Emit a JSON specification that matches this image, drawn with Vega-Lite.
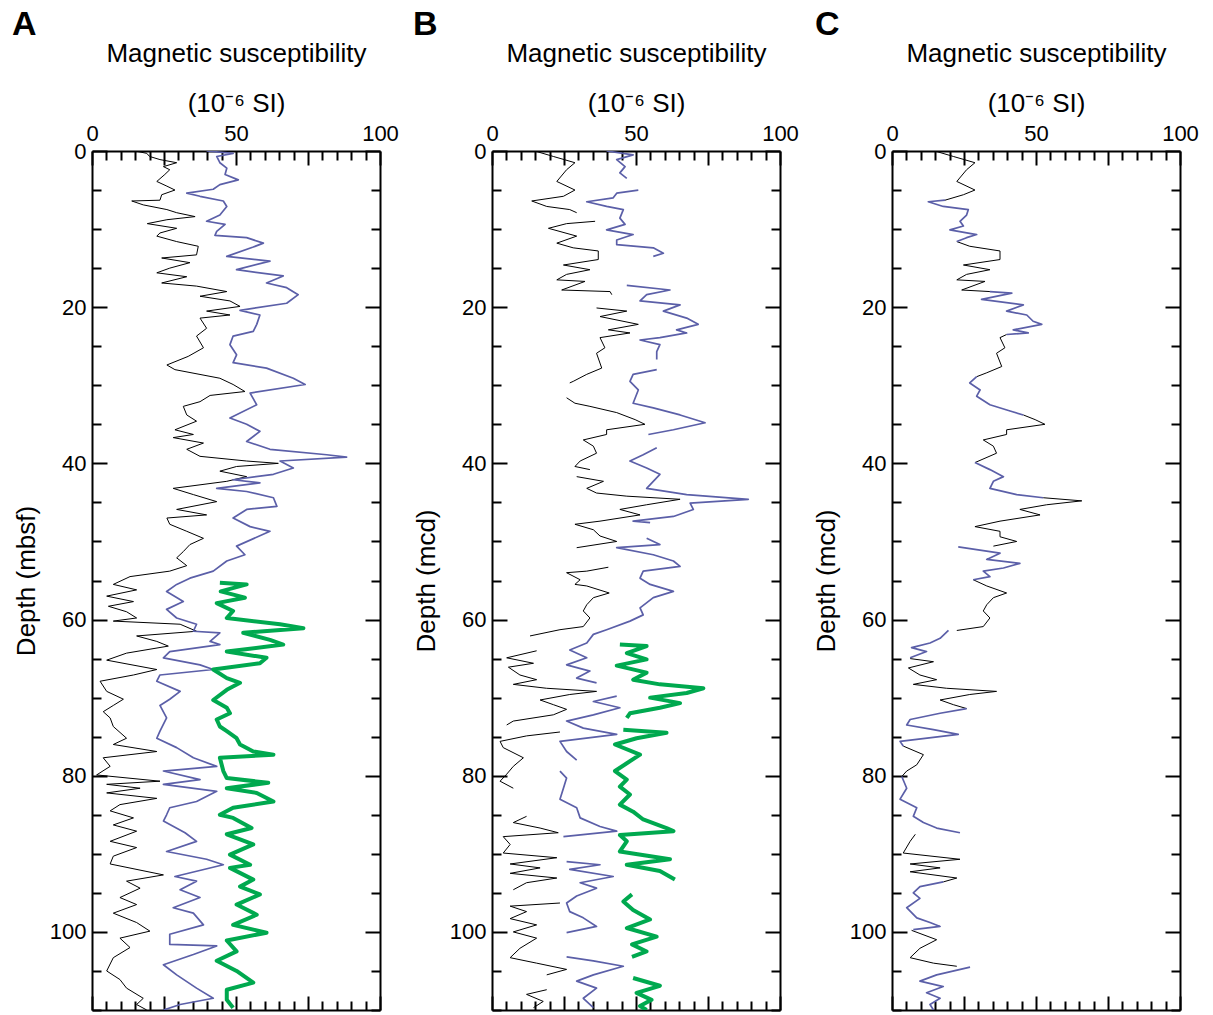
{
"$schema": "https://vega.github.io/schema/vega-lite/v6.json",
"background": "white",
"padding": {"left": 12, "top": 8, "right": 3, "bottom": 2},
"config": {
  "view": {"stroke": null},
  "axis": {"grid": false, "domainColor": "black", "domainWidth": 2, "tickColor": "black", "tickWidth": 2, "labelColor": "black", "titleColor": "black", "labelFont": "Liberation Sans", "titleFont": "Liberation Sans", "labelFontSize": 22, "titleFontSize": 26, "titleFontWeight": "normal", "labelOverlap": false, "labelFlush": false},
  "title": {"font": "Liberation Sans", "color": "black"}
},
"datasets": {
"ms": [
{"p":"A","h":"k","s":"Ak","d":0,"v":15},{"p":"A","h":"k","s":"Ak","d":0.3,"v":19},{"p":"A","h":"k","s":"Ak","d":0.7,"v":20},{"p":"A","h":"k","s":"Ak","d":1.1,"v":23.6},{"p":"A","h":"k","s":"Ak","d":1.5,"v":29.4},{"p":"A","h":"k","s":"Ak","d":2.0,"v":24.8},{"p":"A","h":"k","s":"Ak","d":2.4,"v":27},{"p":"A","h":"k","s":"Ak","d":3.0,"v":25.3},{"p":"A","h":"k","s":"Ak","d":3.9,"v":22.5},{"p":"A","h":"k","s":"Ak","d":4.5,"v":26},{"p":"A","h":"k","s":"Ak","d":5.0,"v":28.8},{"p":"A","h":"k","s":"Ak","d":5.6,"v":24.2},{"p":"A","h":"k","s":"Ak","d":6.3,"v":23.6},{"p":"A","h":"k","s":"Ak","d":6.4,"v":13.8},{"p":"A","h":"k","s":"Ak","d":6.9,"v":17.8},{"p":"A","h":"k","s":"Ak","d":7.5,"v":26},{"p":"A","h":"k","s":"Ak","d":7.9,"v":29.4},{"p":"A","h":"k","s":"Ak","d":8.4,"v":35.8},{"p":"A","h":"k","s":"Ak","d":8.8,"v":26},{"p":"A","h":"k","s":"Ak","d":9.3,"v":19.2},{"p":"A","h":"k","s":"Ak","d":9.9,"v":29.4},{"p":"A","h":"k","s":"Ak","d":10.5,"v":23.6},{"p":"A","h":"k","s":"Ak","d":10.9,"v":22.5},{"p":"A","h":"k","s":"Ak","d":11.6,"v":29.4},{"p":"A","h":"k","s":"Ak","d":12.2,"v":36.9},{"p":"A","h":"k","s":"Ak","d":13.3,"v":36.3},{"p":"A","h":"k","s":"Ak","d":13.7,"v":24.2},{"p":"A","h":"k","s":"Ak","d":14.3,"v":34},{"p":"A","h":"k","s":"Ak","d":15.0,"v":27},{"p":"A","h":"k","s":"Ak","d":15.6,"v":22.5},{"p":"A","h":"k","s":"Ak","d":16.1,"v":32.9},{"p":"A","h":"k","s":"Ak","d":16.9,"v":24.2},{"p":"A","h":"k","s":"Ak","d":17.3,"v":36.3},{"p":"A","h":"k","s":"Ak","d":18.0,"v":46.8},{"p":"A","h":"k","s":"Ak","d":18.6,"v":37.5},{"p":"A","h":"k","s":"Ak","d":19.2,"v":47.9},{"p":"A","h":"k","s":"Ak","d":19.9,"v":51.4},{"p":"A","h":"k","s":"Ak","d":20.5,"v":39.8},{"p":"A","h":"k","s":"Ak","d":21.0,"v":47.9},{"p":"A","h":"k","s":"Ak","d":21.4,"v":37.5},{"p":"A","h":"k","s":"Ak","d":22.7,"v":39.8},{"p":"A","h":"k","s":"Ak","d":23.7,"v":36.3},{"p":"A","h":"k","s":"Ak","d":25.2,"v":38.7},{"p":"A","h":"k","s":"Ak","d":26.3,"v":33.4},{"p":"A","h":"k","s":"Ak","d":27.4,"v":26},{"p":"A","h":"k","s":"Ak","d":28.0,"v":28.8},{"p":"A","h":"k","s":"Ak","d":29.1,"v":44.4},{"p":"A","h":"k","s":"Ak","d":29.9,"v":49},{"p":"A","h":"k","s":"Ak","d":30.8,"v":53.1},{"p":"A","h":"k","s":"Ak","d":31.3,"v":41},{"p":"A","h":"k","s":"Ak","d":32.1,"v":37.5},{"p":"A","h":"k","s":"Ak","d":32.7,"v":31.7},{"p":"A","h":"k","s":"Ak","d":33.8,"v":32.9},{"p":"A","h":"k","s":"Ak","d":34.6,"v":36.3},{"p":"A","h":"k","s":"Ak","d":35.7,"v":28.8},{"p":"A","h":"k","s":"Ak","d":36.3,"v":35.2},{"p":"A","h":"k","s":"Ak","d":36.7,"v":28.2},{"p":"A","h":"k","s":"Ak","d":37.4,"v":38.7},{"p":"A","h":"k","s":"Ak","d":38.2,"v":32.9},{"p":"A","h":"k","s":"Ak","d":39.1,"v":37.5},{"p":"A","h":"k","s":"Ak","d":39.7,"v":53.7},{"p":"A","h":"k","s":"Ak","d":40.0,"v":64.7},{"p":"A","h":"k","s":"Ak","d":40.4,"v":50.2},{"p":"A","h":"k","s":"Ak","d":41.0,"v":44.4},{"p":"A","h":"k","s":"Ak","d":41.7,"v":53.7},{"p":"A","h":"k","s":"Ak","d":42.3,"v":46.8},{"p":"A","h":"k","s":"Ak","d":43.2,"v":28.2},{"p":"A","h":"k","s":"Ak","d":44.0,"v":35.2},{"p":"A","h":"k","s":"Ak","d":44.9,"v":43.3},{"p":"A","h":"k","s":"Ak","d":45.9,"v":29.4},{"p":"A","h":"k","s":"Ak","d":46.6,"v":39.8},{"p":"A","h":"k","s":"Ak","d":47.0,"v":26},{"p":"A","h":"k","s":"Ak","d":47.8,"v":27},{"p":"A","h":"k","s":"Ak","d":48.7,"v":32.9},{"p":"A","h":"k","s":"Ak","d":49.6,"v":38.7},{"p":"A","h":"k","s":"Ak","d":50.4,"v":34},{"p":"A","h":"k","s":"Ak","d":51.3,"v":31.7},{"p":"A","h":"k","s":"Ak","d":52.1,"v":29.4},{"p":"A","h":"k","s":"Ak","d":53.1,"v":32.9},{"p":"A","h":"k","s":"Ak","d":53.8,"v":27},{"p":"A","h":"k","s":"Ak","d":54.5,"v":13.2},{"p":"A","h":"k","s":"Ak","d":55.5,"v":7.4},{"p":"A","h":"k","s":"Ak","d":56.2,"v":15.5},{"p":"A","h":"k","s":"Ak","d":57.0,"v":5.1},{"p":"A","h":"k","s":"Ak","d":57.7,"v":14.4},{"p":"A","h":"k","s":"Ak","d":58.3,"v":5.7},{"p":"A","h":"k","s":"Ak","d":59.0,"v":12},{"p":"A","h":"k","s":"Ak","d":59.8,"v":15.5},{"p":"A","h":"k","s":"Ak","d":60.2,"v":7.4},{"p":"A","h":"k","s":"Ak","d":60.6,"v":30.6},{"p":"A","h":"k","s":"Ak","d":61.5,"v":36.3},{"p":"A","h":"k","s":"Ak","d":62.1,"v":15.5},{"p":"A","h":"k","s":"Ak","d":62.8,"v":22.5},{"p":"A","h":"k","s":"Ak","d":63.4,"v":26.5},{"p":"A","h":"k","s":"Ak","d":64.3,"v":12},{"p":"A","h":"k","s":"Ak","d":65.2,"v":5.1},{"p":"A","h":"k","s":"Ak","d":66.4,"v":22.5},{"p":"A","h":"k","s":"Ak","d":67.1,"v":14.4},{"p":"A","h":"k","s":"Ak","d":67.9,"v":2.8},{"p":"A","h":"k","s":"Ak","d":69.2,"v":5.1},{"p":"A","h":"k","s":"Ak","d":70.2,"v":10.9},{"p":"A","h":"k","s":"Ak","d":71.0,"v":7.4},{"p":"A","h":"k","s":"Ak","d":71.8,"v":3.9},{"p":"A","h":"k","s":"Ak","d":72.6,"v":6.3},{"p":"A","h":"k","s":"Ak","d":73.7,"v":7.4},{"p":"A","h":"k","s":"Ak","d":75.2,"v":12},{"p":"A","h":"k","s":"Ak","d":76.0,"v":7.4},{"p":"A","h":"k","s":"Ak","d":76.9,"v":22.5},{"p":"A","h":"k","s":"Ak","d":77.7,"v":3.9},{"p":"A","h":"k","s":"Ak","d":78.8,"v":6.3},{"p":"A","h":"k","s":"Ak","d":79.9,"v":1.6},{"p":"A","h":"k","s":"Ak","d":80.7,"v":23.6},{"p":"A","h":"k","s":"Ak","d":81.1,"v":5.1},{"p":"A","h":"k","s":"Ak","d":81.6,"v":16.7},{"p":"A","h":"k","s":"Ak","d":82.2,"v":5.1},{"p":"A","h":"k","s":"Ak","d":82.9,"v":22.5},{"p":"A","h":"k","s":"Ak","d":83.7,"v":9.7},{"p":"A","h":"k","s":"Ak","d":84.5,"v":6.3},{"p":"A","h":"k","s":"Ak","d":85.4,"v":14.4},{"p":"A","h":"k","s":"Ak","d":86.3,"v":7.4},{"p":"A","h":"k","s":"Ak","d":87.1,"v":15.5},{"p":"A","h":"k","s":"Ak","d":88.4,"v":6.3},{"p":"A","h":"k","s":"Ak","d":89.2,"v":15.5},{"p":"A","h":"k","s":"Ak","d":90.3,"v":7.4},{"p":"A","h":"k","s":"Ak","d":91.3,"v":6.3},{"p":"A","h":"k","s":"Ak","d":92.7,"v":24.8},{"p":"A","h":"k","s":"Ak","d":93.5,"v":12},{"p":"A","h":"k","s":"Ak","d":94.4,"v":16.7},{"p":"A","h":"k","s":"Ak","d":95.6,"v":9.7},{"p":"A","h":"k","s":"Ak","d":96.5,"v":15.5},{"p":"A","h":"k","s":"Ak","d":97.6,"v":7.4},{"p":"A","h":"k","s":"Ak","d":98.8,"v":15.5},{"p":"A","h":"k","s":"Ak","d":99.9,"v":20.1},{"p":"A","h":"k","s":"Ak","d":100.8,"v":9.7},{"p":"A","h":"k","s":"Ak","d":102.0,"v":13.2},{"p":"A","h":"k","s":"Ak","d":103.3,"v":7.4},{"p":"A","h":"k","s":"Ak","d":105.0,"v":5.1},{"p":"A","h":"k","s":"Ak","d":106.1,"v":9.7},{"p":"A","h":"k","s":"Ak","d":107.2,"v":12},{"p":"A","h":"k","s":"Ak","d":108.5,"v":17.8},{"p":"A","h":"k","s":"Ak","d":109.3,"v":15.5},{"p":"A","h":"k","s":"Ak","d":110,"v":19},
{"p":"A","h":"b","s":"Ab","d":0,"v":39.8},{"p":"A","h":"b","s":"Ab","d":0.3,"v":49},{"p":"A","h":"b","s":"Ab","d":0.7,"v":43.3},{"p":"A","h":"b","s":"Ab","d":1.5,"v":44.4},{"p":"A","h":"b","s":"Ab","d":2.2,"v":46.8},{"p":"A","h":"b","s":"Ab","d":3.0,"v":46.2},{"p":"A","h":"b","s":"Ab","d":3.7,"v":50.8},{"p":"A","h":"b","s":"Ab","d":4.3,"v":44.4},{"p":"A","h":"b","s":"Ab","d":4.9,"v":42.1},{"p":"A","h":"b","s":"Ab","d":5.4,"v":32.9},{"p":"A","h":"b","s":"Ab","d":5.8,"v":37.5},{"p":"A","h":"b","s":"Ab","d":6.4,"v":45.6},{"p":"A","h":"b","s":"Ab","d":7.1,"v":46.8},{"p":"A","h":"b","s":"Ab","d":8.2,"v":44.4},{"p":"A","h":"b","s":"Ab","d":9.0,"v":39.8},{"p":"A","h":"b","s":"Ab","d":9.4,"v":46.2},{"p":"A","h":"b","s":"Ab","d":10.3,"v":43.3},{"p":"A","h":"b","s":"Ab","d":10.8,"v":42.7},{"p":"A","h":"b","s":"Ab","d":11.1,"v":53.7},{"p":"A","h":"b","s":"Ab","d":11.8,"v":59.5},{"p":"A","h":"b","s":"Ab","d":12.3,"v":56},{"p":"A","h":"b","s":"Ab","d":13.5,"v":46.8},{"p":"A","h":"b","s":"Ab","d":14.1,"v":61.8},{"p":"A","h":"b","s":"Ab","d":15.2,"v":50.2},{"p":"A","h":"b","s":"Ab","d":16.0,"v":66.4},{"p":"A","h":"b","s":"Ab","d":16.9,"v":60.6},{"p":"A","h":"b","s":"Ab","d":17.5,"v":67.6},{"p":"A","h":"b","s":"Ab","d":18.4,"v":71.6},{"p":"A","h":"b","s":"Ab","d":19.5,"v":67.6},{"p":"A","h":"b","s":"Ab","d":20.4,"v":51.4},{"p":"A","h":"b","s":"Ab","d":21.0,"v":58.3},{"p":"A","h":"b","s":"Ab","d":22.2,"v":57.2},{"p":"A","h":"b","s":"Ab","d":23.1,"v":56},{"p":"A","h":"b","s":"Ab","d":23.7,"v":49},{"p":"A","h":"b","s":"Ab","d":24.8,"v":47.9},{"p":"A","h":"b","s":"Ab","d":26.1,"v":50.2},{"p":"A","h":"b","s":"Ab","d":27.1,"v":49},{"p":"A","h":"b","s":"Ab","d":27.8,"v":60.6},{"p":"A","h":"b","s":"Ab","d":29.1,"v":69.9},{"p":"A","h":"b","s":"Ab","d":29.9,"v":74},{"p":"A","h":"b","s":"Ab","d":31.0,"v":54.9},{"p":"A","h":"b","s":"Ab","d":32.5,"v":57.2},{"p":"A","h":"b","s":"Ab","d":34.2,"v":47.9},{"p":"A","h":"b","s":"Ab","d":35.0,"v":53.7},{"p":"A","h":"b","s":"Ab","d":35.9,"v":58.3},{"p":"A","h":"b","s":"Ab","d":37.2,"v":53.7},{"p":"A","h":"b","s":"Ab","d":38.2,"v":61.8},{"p":"A","h":"b","s":"Ab","d":38.9,"v":81.5},{"p":"A","h":"b","s":"Ab","d":39.2,"v":88.4},{"p":"A","h":"b","s":"Ab","d":39.7,"v":65.3},{"p":"A","h":"b","s":"Ab","d":40.6,"v":69.9},{"p":"A","h":"b","s":"Ab","d":41.4,"v":63},{"p":"A","h":"b","s":"Ab","d":42.1,"v":49},{"p":"A","h":"b","s":"Ab","d":42.5,"v":58.3},{"p":"A","h":"b","s":"Ab","d":43.2,"v":43.3},{"p":"A","h":"b","s":"Ab","d":43.6,"v":53.7},{"p":"A","h":"b","s":"Ab","d":44.4,"v":63},{"p":"A","h":"b","s":"Ab","d":45.5,"v":64.2},{"p":"A","h":"b","s":"Ab","d":45.9,"v":53.7},{"p":"A","h":"b","s":"Ab","d":47.0,"v":49},{"p":"A","h":"b","s":"Ab","d":48.1,"v":54.9},{"p":"A","h":"b","s":"Ab","d":48.7,"v":61.8},{"p":"A","h":"b","s":"Ab","d":50.6,"v":50.2},{"p":"A","h":"b","s":"Ab","d":51.7,"v":53.1},{"p":"A","h":"b","s":"Ab","d":52.5,"v":46.8},{"p":"A","h":"b","s":"Ab","d":53.8,"v":42.1},{"p":"A","h":"b","s":"Ab","d":54.7,"v":34},{"p":"A","h":"b","s":"Ab","d":55.5,"v":29.4},{"p":"A","h":"b","s":"Ab","d":56.4,"v":25.9},{"p":"A","h":"b","s":"Ab","d":57.7,"v":31.7},{"p":"A","h":"b","s":"Ab","d":58.7,"v":25.9},{"p":"A","h":"b","s":"Ab","d":59.8,"v":29.4},{"p":"A","h":"b","s":"Ab","d":60.6,"v":36.3},{"p":"A","h":"b","s":"Ab","d":61.5,"v":35.2},{"p":"A","h":"b","s":"Ab","d":61.7,"v":44.4},{"p":"A","h":"b","s":"Ab","d":62.8,"v":41},{"p":"A","h":"b","s":"Ab","d":63.2,"v":44.4},{"p":"A","h":"b","s":"Ab","d":64.1,"v":27},{"p":"A","h":"b","s":"Ab","d":64.9,"v":24.8},{"p":"A","h":"b","s":"Ab","d":65.8,"v":37.5},{"p":"A","h":"b","s":"Ab","d":66.4,"v":42.1},{"p":"A","h":"b","s":"Ab","d":67.1,"v":23.6},{"p":"A","h":"b","s":"Ab","d":67.9,"v":22.5},{"p":"A","h":"b","s":"Ab","d":69.2,"v":30.6},{"p":"A","h":"b","s":"Ab","d":70.2,"v":27},{"p":"A","h":"b","s":"Ab","d":71.0,"v":23.6},{"p":"A","h":"b","s":"Ab","d":72.6,"v":25.9},{"p":"A","h":"b","s":"Ab","d":74.3,"v":23.6},{"p":"A","h":"b","s":"Ab","d":75.2,"v":22.5},{"p":"A","h":"b","s":"Ab","d":76.4,"v":29.4},{"p":"A","h":"b","s":"Ab","d":77.7,"v":35.2},{"p":"A","h":"b","s":"Ab","d":78.8,"v":43.3},{"p":"A","h":"b","s":"Ab","d":79.4,"v":24.8},{"p":"A","h":"b","s":"Ab","d":80.5,"v":37.5},{"p":"A","h":"b","s":"Ab","d":81.1,"v":24.8},{"p":"A","h":"b","s":"Ab","d":82.0,"v":43.3},{"p":"A","h":"b","s":"Ab","d":83.3,"v":36.3},{"p":"A","h":"b","s":"Ab","d":84.1,"v":27},{"p":"A","h":"b","s":"Ab","d":85.0,"v":25.9},{"p":"A","h":"b","s":"Ab","d":85.8,"v":24.8},{"p":"A","h":"b","s":"Ab","d":87.3,"v":32.3},{"p":"A","h":"b","s":"Ab","d":88.4,"v":36.3},{"p":"A","h":"b","s":"Ab","d":89.7,"v":25.9},{"p":"A","h":"b","s":"Ab","d":90.7,"v":39.8},{"p":"A","h":"b","s":"Ab","d":91.4,"v":45.6},{"p":"A","h":"b","s":"Ab","d":92.9,"v":28.8},{"p":"A","h":"b","s":"Ab","d":93.5,"v":36.3},{"p":"A","h":"b","s":"Ab","d":94.6,"v":30.6},{"p":"A","h":"b","s":"Ab","d":95.6,"v":37.5},{"p":"A","h":"b","s":"Ab","d":96.9,"v":28.2},{"p":"A","h":"b","s":"Ab","d":97.6,"v":35.2},{"p":"A","h":"b","s":"Ab","d":99.1,"v":38.7},{"p":"A","h":"b","s":"Ab","d":100.3,"v":27},{"p":"A","h":"b","s":"Ab","d":101.6,"v":27},{"p":"A","h":"b","s":"Ab","d":101.8,"v":43.3},{"p":"A","h":"b","s":"Ab","d":102.9,"v":35.2},{"p":"A","h":"b","s":"Ab","d":104.2,"v":24.8},{"p":"A","h":"b","s":"Ab","d":105.5,"v":29.4},{"p":"A","h":"b","s":"Ab","d":107.2,"v":36.3},{"p":"A","h":"b","s":"Ab","d":108.5,"v":42.1},{"p":"A","h":"b","s":"Ab","d":109.3,"v":30.6},{"p":"A","h":"b","s":"Ab","d":110,"v":24.8},
{"p":"A","h":"g","s":"Ag","d":55.3,"v":44.4},{"p":"A","h":"g","s":"Ag","d":55.5,"v":53.7},{"p":"A","h":"g","s":"Ag","d":56.4,"v":44.7},{"p":"A","h":"g","s":"Ag","d":57.2,"v":53.1},{"p":"A","h":"g","s":"Ag","d":57.9,"v":43.3},{"p":"A","h":"g","s":"Ag","d":58.9,"v":49},{"p":"A","h":"g","s":"Ag","d":59.8,"v":46.8},{"p":"A","h":"g","s":"Ag","d":60.6,"v":65.3},{"p":"A","h":"g","s":"Ag","d":61.1,"v":73.4},{"p":"A","h":"g","s":"Ag","d":61.7,"v":52.5},{"p":"A","h":"g","s":"Ag","d":62.6,"v":61.8},{"p":"A","h":"g","s":"Ag","d":63.2,"v":66.4},{"p":"A","h":"g","s":"Ag","d":64.1,"v":46.8},{"p":"A","h":"g","s":"Ag","d":64.9,"v":60.6},{"p":"A","h":"g","s":"Ag","d":65.6,"v":58.3},{"p":"A","h":"g","s":"Ag","d":66.4,"v":42.1},{"p":"A","h":"g","s":"Ag","d":67.5,"v":46.8},{"p":"A","h":"g","s":"Ag","d":68.1,"v":51.4},{"p":"A","h":"g","s":"Ag","d":69.0,"v":46.8},{"p":"A","h":"g","s":"Ag","d":70.3,"v":42.1},{"p":"A","h":"g","s":"Ag","d":71.3,"v":46.8},{"p":"A","h":"g","s":"Ag","d":72.0,"v":47.9},{"p":"A","h":"g","s":"Ag","d":72.8,"v":43.3},{"p":"A","h":"g","s":"Ag","d":73.7,"v":44.4},{"p":"A","h":"g","s":"Ag","d":74.3,"v":46.8},{"p":"A","h":"g","s":"Ag","d":75.2,"v":50.2},{"p":"A","h":"g","s":"Ag","d":76.0,"v":51.4},{"p":"A","h":"g","s":"Ag","d":76.9,"v":56},{"p":"A","h":"g","s":"Ag","d":77.3,"v":63},{"p":"A","h":"g","s":"Ag","d":77.7,"v":44.4},{"p":"A","h":"g","s":"Ag","d":79.4,"v":45.6},{"p":"A","h":"g","s":"Ag","d":80.3,"v":46.8},{"p":"A","h":"g","s":"Ag","d":80.9,"v":61.2},{"p":"A","h":"g","s":"Ag","d":81.6,"v":46.8},{"p":"A","h":"g","s":"Ag","d":82.2,"v":57.2},{"p":"A","h":"g","s":"Ag","d":83.3,"v":63},{"p":"A","h":"g","s":"Ag","d":84.1,"v":49},{"p":"A","h":"g","s":"Ag","d":85.0,"v":44.4},{"p":"A","h":"g","s":"Ag","d":85.4,"v":49},{"p":"A","h":"g","s":"Ag","d":86.7,"v":55.4},{"p":"A","h":"g","s":"Ag","d":87.5,"v":46.8},{"p":"A","h":"g","s":"Ag","d":88.8,"v":56},{"p":"A","h":"g","s":"Ag","d":90.1,"v":47.9},{"p":"A","h":"g","s":"Ag","d":91.4,"v":54.9},{"p":"A","h":"g","s":"Ag","d":91.8,"v":47.9},{"p":"A","h":"g","s":"Ag","d":93.3,"v":56},{"p":"A","h":"g","s":"Ag","d":94.2,"v":51.4},{"p":"A","h":"g","s":"Ag","d":95.2,"v":58.3},{"p":"A","h":"g","s":"Ag","d":96.5,"v":50.2},{"p":"A","h":"g","s":"Ag","d":97.8,"v":57.2},{"p":"A","h":"g","s":"Ag","d":99.1,"v":49},{"p":"A","h":"g","s":"Ag","d":100.1,"v":60.6},{"p":"A","h":"g","s":"Ag","d":101.1,"v":46.8},{"p":"A","h":"g","s":"Ag","d":102.5,"v":50.2},{"p":"A","h":"g","s":"Ag","d":103.7,"v":43.3},{"p":"A","h":"g","s":"Ag","d":105.0,"v":50.2},{"p":"A","h":"g","s":"Ag","d":106.5,"v":56},{"p":"A","h":"g","s":"Ag","d":107.4,"v":46.8},{"p":"A","h":"g","s":"Ag","d":108.7,"v":46.8},{"p":"A","h":"g","s":"Ag","d":109.7,"v":49},
{"p":"B","h":"k","s":"Bk1","d":0,"v":14.9},{"p":"B","h":"k","s":"Bk1","d":0.7,"v":21.3},{"p":"B","h":"k","s":"Bk1","d":1.5,"v":28.8},{"p":"B","h":"k","s":"Bk1","d":2.4,"v":25.9},{"p":"B","h":"k","s":"Bk1","d":3.9,"v":22.5},{"p":"B","h":"k","s":"Bk1","d":5.0,"v":28.8},{"p":"B","h":"k","s":"Bk1","d":5.8,"v":24.8},{"p":"B","h":"k","s":"Bk1","d":6.4,"v":13.8},{"p":"B","h":"k","s":"Bk1","d":7.1,"v":19},{"p":"B","h":"k","s":"Bk1","d":7.5,"v":27},{"p":"B","h":"k","s":"Bk1","d":7.9,"v":29.4},
{"p":"B","h":"k","s":"Bk2","d":9.0,"v":35.8},{"p":"B","h":"k","s":"Bk2","d":9.3,"v":25.9},{"p":"B","h":"k","s":"Bk2","d":9.9,"v":19.6},{"p":"B","h":"k","s":"Bk2","d":10.9,"v":29.4},{"p":"B","h":"k","s":"Bk2","d":11.8,"v":22.5},{"p":"B","h":"k","s":"Bk2","d":12.4,"v":28.2},{"p":"B","h":"k","s":"Bk2","d":12.8,"v":36.9},{"p":"B","h":"k","s":"Bk2","d":13.9,"v":36.9},{"p":"B","h":"k","s":"Bk2","d":14.6,"v":24.8},{"p":"B","h":"k","s":"Bk2","d":15.2,"v":34},{"p":"B","h":"k","s":"Bk2","d":15.8,"v":25.9},{"p":"B","h":"k","s":"Bk2","d":16.5,"v":22.5},{"p":"B","h":"k","s":"Bk2","d":16.7,"v":32.3},{"p":"B","h":"k","s":"Bk2","d":17.8,"v":24.2},{"p":"B","h":"k","s":"Bk2","d":18.0,"v":41},{"p":"B","h":"k","s":"Bk2","d":18.4,"v":41.6},
{"p":"B","h":"k","s":"Bk3","d":20.1,"v":36.3},{"p":"B","h":"k","s":"Bk3","d":20.5,"v":46.8},{"p":"B","h":"k","s":"Bk3","d":21.2,"v":37.5},{"p":"B","h":"k","s":"Bk3","d":22.2,"v":50.8},{"p":"B","h":"k","s":"Bk3","d":22.9,"v":40.4},{"p":"B","h":"k","s":"Bk3","d":23.3,"v":47.9},{"p":"B","h":"k","s":"Bk3","d":23.9,"v":37.5},{"p":"B","h":"k","s":"Bk3","d":25.2,"v":39.2},{"p":"B","h":"k","s":"Bk3","d":25.9,"v":36.3},{"p":"B","h":"k","s":"Bk3","d":27.8,"v":38.1},{"p":"B","h":"k","s":"Bk3","d":28.6,"v":32.9},{"p":"B","h":"k","s":"Bk3","d":29.5,"v":28.2},{"p":"B","h":"k","s":"Bk3","d":29.7,"v":27},
{"p":"B","h":"k","s":"Bk4","d":31.6,"v":25.9},{"p":"B","h":"k","s":"Bk4","d":32.3,"v":28.8},{"p":"B","h":"k","s":"Bk4","d":32.7,"v":34},{"p":"B","h":"k","s":"Bk4","d":33.5,"v":43.3},{"p":"B","h":"k","s":"Bk4","d":34.4,"v":49.7},{"p":"B","h":"k","s":"Bk4","d":35.0,"v":53.1},{"p":"B","h":"k","s":"Bk4","d":35.7,"v":39.8},{"p":"B","h":"k","s":"Bk4","d":36.3,"v":39.8},{"p":"B","h":"k","s":"Bk4","d":37.0,"v":31.7},{"p":"B","h":"k","s":"Bk4","d":37.8,"v":35.2},{"p":"B","h":"k","s":"Bk4","d":38.7,"v":36.3},{"p":"B","h":"k","s":"Bk4","d":39.7,"v":30.6},{"p":"B","h":"k","s":"Bk4","d":40.4,"v":28.8},{"p":"B","h":"k","s":"Bk4","d":40.8,"v":34},
{"p":"B","h":"k","s":"Bk5","d":41.7,"v":29.4},{"p":"B","h":"k","s":"Bk5","d":42.3,"v":38.7},{"p":"B","h":"k","s":"Bk5","d":43.2,"v":32.9},{"p":"B","h":"k","s":"Bk5","d":43.8,"v":36.3},{"p":"B","h":"k","s":"Bk5","d":44.2,"v":46.8},{"p":"B","h":"k","s":"Bk5","d":44.6,"v":65.3},{"p":"B","h":"k","s":"Bk5","d":45.3,"v":53.7},{"p":"B","h":"k","s":"Bk5","d":45.9,"v":44.4},{"p":"B","h":"k","s":"Bk5","d":46.6,"v":51.4},{"p":"B","h":"k","s":"Bk5","d":47.4,"v":37.5},{"p":"B","h":"k","s":"Bk5","d":47.8,"v":28.8},{"p":"B","h":"k","s":"Bk5","d":48.5,"v":35.2},{"p":"B","h":"k","s":"Bk5","d":49.3,"v":37.5},{"p":"B","h":"k","s":"Bk5","d":50.0,"v":43.3},{"p":"B","h":"k","s":"Bk5","d":50.8,"v":29.4},
{"p":"B","h":"k","s":"Bk6","d":53.3,"v":40.4},{"p":"B","h":"k","s":"Bk6","d":53.8,"v":32.9},{"p":"B","h":"k","s":"Bk6","d":54.0,"v":25.9},{"p":"B","h":"k","s":"Bk6","d":54.9,"v":30.6},{"p":"B","h":"k","s":"Bk6","d":55.5,"v":28.8},{"p":"B","h":"k","s":"Bk6","d":55.7,"v":32.9},{"p":"B","h":"k","s":"Bk6","d":56.6,"v":40.7},{"p":"B","h":"k","s":"Bk6","d":57.2,"v":35.2},{"p":"B","h":"k","s":"Bk6","d":58.1,"v":32.9},{"p":"B","h":"k","s":"Bk6","d":58.9,"v":31.7},{"p":"B","h":"k","s":"Bk6","d":59.8,"v":34},{"p":"B","h":"k","s":"Bk6","d":60.9,"v":31.7},{"p":"B","h":"k","s":"Bk6","d":61.3,"v":23.6},{"p":"B","h":"k","s":"Bk6","d":62.1,"v":13.2},
{"p":"B","h":"k","s":"Bk7","d":64.0,"v":15.5},{"p":"B","h":"k","s":"Bk7","d":64.9,"v":5.1},{"p":"B","h":"k","s":"Bk7","d":65.6,"v":14.4},{"p":"B","h":"k","s":"Bk7","d":66.1,"v":5.7},{"p":"B","h":"k","s":"Bk7","d":67.1,"v":9.7},{"p":"B","h":"k","s":"Bk7","d":67.7,"v":15.5},{"p":"B","h":"k","s":"Bk7","d":68.3,"v":7.4},{"p":"B","h":"k","s":"Bk7","d":68.8,"v":18.9},{"p":"B","h":"k","s":"Bk7","d":69.2,"v":36.3},{"p":"B","h":"k","s":"Bk7","d":69.6,"v":27},{"p":"B","h":"k","s":"Bk7","d":70.3,"v":16.7},{"p":"B","h":"k","s":"Bk7","d":70.9,"v":21.3},{"p":"B","h":"k","s":"Bk7","d":71.5,"v":25.9},{"p":"B","h":"k","s":"Bk7","d":72.2,"v":21.3},{"p":"B","h":"k","s":"Bk7","d":73.0,"v":7.4},{"p":"B","h":"k","s":"Bk7","d":73.5,"v":5.1},
{"p":"B","h":"k","s":"Bk8","d":74.4,"v":23.6},{"p":"B","h":"k","s":"Bk8","d":74.9,"v":12},{"p":"B","h":"k","s":"Bk8","d":75.6,"v":2.8},{"p":"B","h":"k","s":"Bk8","d":76.4,"v":3.9},{"p":"B","h":"k","s":"Bk8","d":77.7,"v":10.9},{"p":"B","h":"k","s":"Bk8","d":78.8,"v":7.4},{"p":"B","h":"k","s":"Bk8","d":79.8,"v":5.1},{"p":"B","h":"k","s":"Bk8","d":80.7,"v":2.8},{"p":"B","h":"k","s":"Bk8","d":81.6,"v":7.4},
{"p":"B","h":"k","s":"Bk9","d":85.2,"v":12},{"p":"B","h":"k","s":"Bk9","d":86.0,"v":7.4},{"p":"B","h":"k","s":"Bk9","d":86.7,"v":16.7},{"p":"B","h":"k","s":"Bk9","d":87.3,"v":23},{"p":"B","h":"k","s":"Bk9","d":87.8,"v":3.9},{"p":"B","h":"k","s":"Bk9","d":88.8,"v":6.3},{"p":"B","h":"k","s":"Bk9","d":89.9,"v":3.9},{"p":"B","h":"k","s":"Bk9","d":90.5,"v":22.5},{"p":"B","h":"k","s":"Bk9","d":91.3,"v":6.3},{"p":"B","h":"k","s":"Bk9","d":91.8,"v":16.7},{"p":"B","h":"k","s":"Bk9","d":92.5,"v":6.3},{"p":"B","h":"k","s":"Bk9","d":93.1,"v":22.5},{"p":"B","h":"k","s":"Bk9","d":93.7,"v":12},{"p":"B","h":"k","s":"Bk9","d":94.6,"v":7.4},
{"p":"B","h":"k","s":"Bk10","d":96.3,"v":23.6},{"p":"B","h":"k","s":"Bk10","d":96.7,"v":6.3},{"p":"B","h":"k","s":"Bk10","d":97.4,"v":12},{"p":"B","h":"k","s":"Bk10","d":98.3,"v":6.3},{"p":"B","h":"k","s":"Bk10","d":99.1,"v":15.5},{"p":"B","h":"k","s":"Bk10","d":100.0,"v":7.4},{"p":"B","h":"k","s":"Bk10","d":100.8,"v":15.5},{"p":"B","h":"k","s":"Bk10","d":102.1,"v":9.7},{"p":"B","h":"k","s":"Bk10","d":103.3,"v":6.3},{"p":"B","h":"k","s":"Bk10","d":104.0,"v":15.5},{"p":"B","h":"k","s":"Bk10","d":104.8,"v":25.9},{"p":"B","h":"k","s":"Bk10","d":105.5,"v":19},
{"p":"B","h":"k","s":"Bk11","d":107.4,"v":19},{"p":"B","h":"k","s":"Bk11","d":108.0,"v":12},{"p":"B","h":"k","s":"Bk11","d":108.9,"v":17.8},{"p":"B","h":"k","s":"Bk11","d":109.7,"v":14.4},
{"p":"B","h":"b","s":"Bb1","d":0,"v":39.8},{"p":"B","h":"b","s":"Bb1","d":0.5,"v":49},{"p":"B","h":"b","s":"Bb1","d":1.1,"v":43.3},{"p":"B","h":"b","s":"Bb1","d":2.0,"v":46.2},{"p":"B","h":"b","s":"Bb1","d":2.8,"v":44.4},{"p":"B","h":"b","s":"Bb1","d":3.5,"v":46.8},
{"p":"B","h":"b","s":"Bb2","d":5.0,"v":50.8},{"p":"B","h":"b","s":"Bb2","d":5.4,"v":43.3},{"p":"B","h":"b","s":"Bb2","d":6.0,"v":42.1},{"p":"B","h":"b","s":"Bb2","d":6.5,"v":32.9},{"p":"B","h":"b","s":"Bb2","d":7.1,"v":39.8},{"p":"B","h":"b","s":"Bb2","d":7.5,"v":45.6},{"p":"B","h":"b","s":"Bb2","d":8.6,"v":44.4},{"p":"B","h":"b","s":"Bb2","d":9.4,"v":46.2},{"p":"B","h":"b","s":"Bb2","d":10.1,"v":39.8},{"p":"B","h":"b","s":"Bb2","d":10.7,"v":49},{"p":"B","h":"b","s":"Bb2","d":11.4,"v":43.3},{"p":"B","h":"b","s":"Bb2","d":12.0,"v":43.3},{"p":"B","h":"b","s":"Bb2","d":12.4,"v":56},{"p":"B","h":"b","s":"Bb2","d":13.1,"v":59.5},{"p":"B","h":"b","s":"Bb2","d":13.5,"v":56},
{"p":"B","h":"b","s":"Bb3","d":17.2,"v":46.8},{"p":"B","h":"b","s":"Bb3","d":17.8,"v":61.8},{"p":"B","h":"b","s":"Bb3","d":18.4,"v":53.7},{"p":"B","h":"b","s":"Bb3","d":19.2,"v":51.4},{"p":"B","h":"b","s":"Bb3","d":19.7,"v":65.3},{"p":"B","h":"b","s":"Bb3","d":20.5,"v":59.5},{"p":"B","h":"b","s":"Bb3","d":21.4,"v":67.6},{"p":"B","h":"b","s":"Bb3","d":22.2,"v":71.6},{"p":"B","h":"b","s":"Bb3","d":22.9,"v":64.1},{"p":"B","h":"b","s":"Bb3","d":23.3,"v":67.6},{"p":"B","h":"b","s":"Bb3","d":23.9,"v":58.3},{"p":"B","h":"b","s":"Bb3","d":24.2,"v":51.4},{"p":"B","h":"b","s":"Bb3","d":24.8,"v":58.3},{"p":"B","h":"b","s":"Bb3","d":25.7,"v":57.2},{"p":"B","h":"b","s":"Bb3","d":26.7,"v":57.2},
{"p":"B","h":"b","s":"Bb4","d":28.0,"v":57.2},{"p":"B","h":"b","s":"Bb4","d":28.6,"v":49},{"p":"B","h":"b","s":"Bb4","d":29.5,"v":47.9},{"p":"B","h":"b","s":"Bb4","d":30.6,"v":50.8},{"p":"B","h":"b","s":"Bb4","d":32.3,"v":49},{"p":"B","h":"b","s":"Bb4","d":32.9,"v":56},{"p":"B","h":"b","s":"Bb4","d":33.8,"v":65.3},{"p":"B","h":"b","s":"Bb4","d":34.8,"v":74},{"p":"B","h":"b","s":"Bb4","d":35.7,"v":63},{"p":"B","h":"b","s":"Bb4","d":36.3,"v":54.3},
{"p":"B","h":"b","s":"Bb5","d":38.0,"v":57.2},{"p":"B","h":"b","s":"Bb5","d":38.9,"v":52.5},{"p":"B","h":"b","s":"Bb5","d":39.7,"v":47.9},{"p":"B","h":"b","s":"Bb5","d":40.6,"v":53.7},{"p":"B","h":"b","s":"Bb5","d":41.4,"v":58.3},{"p":"B","h":"b","s":"Bb5","d":42.3,"v":56},{"p":"B","h":"b","s":"Bb5","d":43.2,"v":53.7},{"p":"B","h":"b","s":"Bb5","d":44.0,"v":67.6},{"p":"B","h":"b","s":"Bb5","d":44.6,"v":89},{"p":"B","h":"b","s":"Bb5","d":45.1,"v":68.8},{"p":"B","h":"b","s":"Bb5","d":45.9,"v":69.9},{"p":"B","h":"b","s":"Bb5","d":46.8,"v":63},{"p":"B","h":"b","s":"Bb5","d":47.4,"v":49},{"p":"B","h":"b","s":"Bb5","d":47.6,"v":54.9},
{"p":"B","h":"b","s":"Bb6","d":49.6,"v":53.7},{"p":"B","h":"b","s":"Bb6","d":50.4,"v":58.3},{"p":"B","h":"b","s":"Bb6","d":50.8,"v":43.3},{"p":"B","h":"b","s":"Bb6","d":51.7,"v":56},{"p":"B","h":"b","s":"Bb6","d":52.5,"v":63},{"p":"B","h":"b","s":"Bb6","d":53.2,"v":65.3},{"p":"B","h":"b","s":"Bb6","d":53.8,"v":52.5},{"p":"B","h":"b","s":"Bb6","d":54.7,"v":51.4},{"p":"B","h":"b","s":"Bb6","d":55.5,"v":54.9},{"p":"B","h":"b","s":"Bb6","d":56.4,"v":63},{"p":"B","h":"b","s":"Bb6","d":57.2,"v":56},{"p":"B","h":"b","s":"Bb6","d":58.5,"v":51.4},{"p":"B","h":"b","s":"Bb6","d":59.4,"v":52.5},{"p":"B","h":"b","s":"Bb6","d":60.2,"v":47.9},{"p":"B","h":"b","s":"Bb6","d":61.3,"v":39.8},{"p":"B","h":"b","s":"Bb6","d":61.9,"v":35.2},{"p":"B","h":"b","s":"Bb6","d":63.0,"v":32.9},{"p":"B","h":"b","s":"Bb6","d":63.9,"v":27},{"p":"B","h":"b","s":"Bb6","d":64.9,"v":32.9},{"p":"B","h":"b","s":"Bb6","d":65.8,"v":25.9},{"p":"B","h":"b","s":"Bb6","d":66.6,"v":34},{"p":"B","h":"b","s":"Bb6","d":67.5,"v":29.4},{"p":"B","h":"b","s":"Bb6","d":68.1,"v":36.3},
{"p":"B","h":"b","s":"Bb7","d":69.8,"v":43.3},{"p":"B","h":"b","s":"Bb7","d":70.5,"v":35.2},{"p":"B","h":"b","s":"Bb7","d":71.3,"v":44.4},{"p":"B","h":"b","s":"Bb7","d":72.2,"v":35.2},{"p":"B","h":"b","s":"Bb7","d":73.0,"v":25.9},{"p":"B","h":"b","s":"Bb7","d":73.9,"v":31.7},{"p":"B","h":"b","s":"Bb7","d":74.7,"v":43.3},{"p":"B","h":"b","s":"Bb7","d":75.6,"v":23.6},{"p":"B","h":"b","s":"Bb7","d":76.9,"v":25.9},{"p":"B","h":"b","s":"Bb7","d":78.0,"v":29.4},
{"p":"B","h":"b","s":"Bb8","d":79.4,"v":23.6},{"p":"B","h":"b","s":"Bb8","d":80.3,"v":25.9},{"p":"B","h":"b","s":"Bb8","d":81.6,"v":24.8},{"p":"B","h":"b","s":"Bb8","d":83.0,"v":23.6},{"p":"B","h":"b","s":"Bb8","d":84.1,"v":29.4},{"p":"B","h":"b","s":"Bb8","d":85.4,"v":30.6},{"p":"B","h":"b","s":"Bb8","d":86.5,"v":37.5},{"p":"B","h":"b","s":"Bb8","d":87.1,"v":43.3},{"p":"B","h":"b","s":"Bb8","d":87.8,"v":24.8},
{"p":"B","h":"b","s":"Bb9","d":91.0,"v":25.9},{"p":"B","h":"b","s":"Bb9","d":91.4,"v":37.5},{"p":"B","h":"b","s":"Bb9","d":92.0,"v":27},{"p":"B","h":"b","s":"Bb9","d":92.9,"v":42.1},{"p":"B","h":"b","s":"Bb9","d":93.7,"v":30.6},{"p":"B","h":"b","s":"Bb9","d":94.4,"v":36.3},{"p":"B","h":"b","s":"Bb9","d":95.4,"v":29.4},{"p":"B","h":"b","s":"Bb9","d":96.3,"v":25.9},{"p":"B","h":"b","s":"Bb9","d":97.4,"v":27},{"p":"B","h":"b","s":"Bb9","d":98.2,"v":31.7},{"p":"B","h":"b","s":"Bb9","d":99.3,"v":36.3},{"p":"B","h":"b","s":"Bb9","d":100.1,"v":25.9},
{"p":"B","h":"b","s":"Bb10","d":103.2,"v":25.9},{"p":"B","h":"b","s":"Bb10","d":103.7,"v":35.2},{"p":"B","h":"b","s":"Bb10","d":104.4,"v":45.6},{"p":"B","h":"b","s":"Bb10","d":105.5,"v":35.2},{"p":"B","h":"b","s":"Bb10","d":106.3,"v":29.4},{"p":"B","h":"b","s":"Bb10","d":107.2,"v":36.3},{"p":"B","h":"b","s":"Bb10","d":108.5,"v":31.7},{"p":"B","h":"b","s":"Bb10","d":109.7,"v":35.2},
{"p":"B","h":"g","s":"Bg1","d":63.2,"v":44.4},{"p":"B","h":"g","s":"Bg1","d":63.4,"v":53.7},{"p":"B","h":"g","s":"Bg1","d":64.3,"v":46.8},{"p":"B","h":"g","s":"Bg1","d":65.1,"v":53.7},{"p":"B","h":"g","s":"Bg1","d":65.9,"v":43.3},{"p":"B","h":"g","s":"Bg1","d":66.8,"v":53.7},{"p":"B","h":"g","s":"Bg1","d":67.7,"v":49},{"p":"B","h":"g","s":"Bg1","d":68.3,"v":58.3},{"p":"B","h":"g","s":"Bg1","d":68.8,"v":73.4},{"p":"B","h":"g","s":"Bg1","d":69.4,"v":67.6},{"p":"B","h":"g","s":"Bg1","d":70.0,"v":54.9},{"p":"B","h":"g","s":"Bg1","d":70.7,"v":65.3},{"p":"B","h":"g","s":"Bg1","d":71.3,"v":58.3},{"p":"B","h":"g","s":"Bg1","d":72.0,"v":47.9},{"p":"B","h":"g","s":"Bg1","d":72.6,"v":46.8},
{"p":"B","h":"g","s":"Bg2","d":74.1,"v":45.6},{"p":"B","h":"g","s":"Bg2","d":74.5,"v":60.6},{"p":"B","h":"g","s":"Bg2","d":75.2,"v":50.2},{"p":"B","h":"g","s":"Bg2","d":76.0,"v":42.7},{"p":"B","h":"g","s":"Bg2","d":77.3,"v":51.4},{"p":"B","h":"g","s":"Bg2","d":78.4,"v":46.8},{"p":"B","h":"g","s":"Bg2","d":79.4,"v":42.7},{"p":"B","h":"g","s":"Bg2","d":80.5,"v":46.8},{"p":"B","h":"g","s":"Bg2","d":81.4,"v":44.4},{"p":"B","h":"g","s":"Bg2","d":82.4,"v":47.9},{"p":"B","h":"g","s":"Bg2","d":83.7,"v":44.4},{"p":"B","h":"g","s":"Bg2","d":84.6,"v":49},{"p":"B","h":"g","s":"Bg2","d":85.6,"v":52.5},{"p":"B","h":"g","s":"Bg2","d":86.7,"v":60.6},{"p":"B","h":"g","s":"Bg2","d":87.1,"v":63},{"p":"B","h":"g","s":"Bg2","d":87.6,"v":44.4},{"p":"B","h":"g","s":"Bg2","d":88.4,"v":46.8},{"p":"B","h":"g","s":"Bg2","d":89.7,"v":44.4},{"p":"B","h":"g","s":"Bg2","d":90.7,"v":61.8},{"p":"B","h":"g","s":"Bg2","d":91.4,"v":46.8},{"p":"B","h":"g","s":"Bg2","d":92.2,"v":58.3},{"p":"B","h":"g","s":"Bg2","d":93.3,"v":63.5},
{"p":"B","h":"g","s":"Bg3","d":95.2,"v":48.6},{"p":"B","h":"g","s":"Bg3","d":96.1,"v":45.6},{"p":"B","h":"g","s":"Bg3","d":97.2,"v":49},{"p":"B","h":"g","s":"Bg3","d":98.4,"v":54.9},{"p":"B","h":"g","s":"Bg3","d":99.5,"v":46.8},{"p":"B","h":"g","s":"Bg3","d":100.6,"v":57.2},{"p":"B","h":"g","s":"Bg3","d":101.6,"v":48.6},{"p":"B","h":"g","s":"Bg3","d":102.5,"v":53.7},{"p":"B","h":"g","s":"Bg3","d":103.2,"v":48.6},
{"p":"B","h":"g","s":"Bg4","d":105.9,"v":49},{"p":"B","h":"g","s":"Bg4","d":106.9,"v":58.3},{"p":"B","h":"g","s":"Bg4","d":107.8,"v":50.2},{"p":"B","h":"g","s":"Bg4","d":108.7,"v":55.4},{"p":"B","h":"g","s":"Bg4","d":109.5,"v":51.4},{"p":"B","h":"g","s":"Bg4","d":110,"v":53.7},
{"p":"C","h":"k","s":"C1","d":0,"v":14.9},{"p":"C","h":"k","s":"C1","d":0.7,"v":21.3},{"p":"C","h":"k","s":"C1","d":1.5,"v":28.8},{"p":"C","h":"k","s":"C1","d":2.4,"v":25.9},{"p":"C","h":"k","s":"C1","d":3.9,"v":22.5},{"p":"C","h":"k","s":"C1","d":5.0,"v":28.8},{"p":"C","h":"k","s":"C1","d":5.6,"v":24.8},{"p":"C","h":"k","s":"C1","d":6.3,"v":18.4},
{"p":"C","h":"b","s":"C2","d":6.3,"v":18.4},{"p":"C","h":"b","s":"C2","d":6.5,"v":12.6},{"p":"C","h":"b","s":"C2","d":7.1,"v":17.8},{"p":"C","h":"b","s":"C2","d":7.5,"v":26.5},{"p":"C","h":"b","s":"C2","d":8.2,"v":25.9},{"p":"C","h":"b","s":"C2","d":9.0,"v":23.6},{"p":"C","h":"b","s":"C2","d":9.6,"v":24.8},{"p":"C","h":"b","s":"C2","d":10.1,"v":20.1},{"p":"C","h":"b","s":"C2","d":10.7,"v":29.4},{"p":"C","h":"b","s":"C2","d":11.1,"v":25.9},{"p":"C","h":"b","s":"C2","d":11.6,"v":22.5},
{"p":"C","h":"k","s":"C3","d":11.6,"v":22.5},{"p":"C","h":"k","s":"C3","d":12.2,"v":27},{"p":"C","h":"k","s":"C3","d":12.8,"v":37.5},{"p":"C","h":"k","s":"C3","d":13.9,"v":37.5},{"p":"C","h":"k","s":"C3","d":14.6,"v":24.8},{"p":"C","h":"k","s":"C3","d":15.2,"v":34},{"p":"C","h":"k","s":"C3","d":15.8,"v":25.9},{"p":"C","h":"k","s":"C3","d":16.5,"v":22.5},{"p":"C","h":"k","s":"C3","d":16.7,"v":32.3},{"p":"C","h":"k","s":"C3","d":17.8,"v":24.2},{"p":"C","h":"k","s":"C3","d":18.0,"v":34},
{"p":"C","h":"b","s":"C4","d":18.0,"v":34},{"p":"C","h":"b","s":"C4","d":18.2,"v":41.6},{"p":"C","h":"b","s":"C4","d":19.0,"v":31.1},{"p":"C","h":"b","s":"C4","d":19.7,"v":45.6},{"p":"C","h":"b","s":"C4","d":20.5,"v":39.8},{"p":"C","h":"b","s":"C4","d":21.0,"v":46.8},{"p":"C","h":"b","s":"C4","d":21.8,"v":49},{"p":"C","h":"b","s":"C4","d":22.2,"v":52},{"p":"C","h":"b","s":"C4","d":22.9,"v":42.1},{"p":"C","h":"b","s":"C4","d":23.3,"v":47.3},{"p":"C","h":"b","s":"C4","d":23.5,"v":39.8},
{"p":"C","h":"k","s":"C5","d":23.5,"v":39.8},{"p":"C","h":"k","s":"C5","d":23.9,"v":37.5},{"p":"C","h":"k","s":"C5","d":25.2,"v":39.2},{"p":"C","h":"k","s":"C5","d":25.9,"v":36.3},{"p":"C","h":"k","s":"C5","d":27.6,"v":38.1},{"p":"C","h":"k","s":"C5","d":28.4,"v":32.9},{"p":"C","h":"k","s":"C5","d":28.9,"v":29.4},
{"p":"C","h":"b","s":"C6","d":28.9,"v":29.4},{"p":"C","h":"b","s":"C6","d":29.7,"v":27},{"p":"C","h":"b","s":"C6","d":30.6,"v":30.6},{"p":"C","h":"b","s":"C6","d":31.4,"v":29.4},{"p":"C","h":"b","s":"C6","d":32.5,"v":34},{"p":"C","h":"b","s":"C6","d":33.3,"v":41},{"p":"C","h":"b","s":"C6","d":33.8,"v":45.6},
{"p":"C","h":"k","s":"C7","d":33.8,"v":45.6},{"p":"C","h":"k","s":"C7","d":34.4,"v":49.7},{"p":"C","h":"k","s":"C7","d":35.0,"v":53.1},{"p":"C","h":"k","s":"C7","d":35.7,"v":39.8},{"p":"C","h":"k","s":"C7","d":36.3,"v":39.8},{"p":"C","h":"k","s":"C7","d":37.0,"v":31.7},{"p":"C","h":"k","s":"C7","d":37.8,"v":35.2},{"p":"C","h":"k","s":"C7","d":38.7,"v":36.3},{"p":"C","h":"k","s":"C7","d":39.9,"v":28.8},
{"p":"C","h":"b","s":"C8","d":39.9,"v":28.8},{"p":"C","h":"b","s":"C8","d":40.8,"v":34},{"p":"C","h":"b","s":"C8","d":41.7,"v":38.7},{"p":"C","h":"b","s":"C8","d":42.3,"v":35.2},{"p":"C","h":"b","s":"C8","d":43.2,"v":34},{"p":"C","h":"b","s":"C8","d":44.0,"v":43.3},{"p":"C","h":"b","s":"C8","d":44.4,"v":52.5},
{"p":"C","h":"k","s":"C9","d":44.4,"v":52.5},{"p":"C","h":"k","s":"C9","d":44.8,"v":65.9},{"p":"C","h":"k","s":"C9","d":45.3,"v":53.7},{"p":"C","h":"k","s":"C9","d":45.9,"v":44.4},{"p":"C","h":"k","s":"C9","d":46.6,"v":51.4},{"p":"C","h":"k","s":"C9","d":47.4,"v":37.5},{"p":"C","h":"k","s":"C9","d":48.1,"v":28.8},{"p":"C","h":"k","s":"C9","d":48.7,"v":37.5},{"p":"C","h":"k","s":"C9","d":49.4,"v":37.5},{"p":"C","h":"k","s":"C9","d":50.0,"v":43.3},{"p":"C","h":"k","s":"C9","d":50.6,"v":35.2},
{"p":"C","h":"b","s":"C10","d":50.7,"v":23},{"p":"C","h":"b","s":"C10","d":51.5,"v":37.5},{"p":"C","h":"b","s":"C10","d":52.3,"v":32.9},{"p":"C","h":"b","s":"C10","d":52.8,"v":44.4},{"p":"C","h":"b","s":"C10","d":53.4,"v":38.7},{"p":"C","h":"b","s":"C10","d":53.8,"v":31.7},{"p":"C","h":"b","s":"C10","d":54.5,"v":34},{"p":"C","h":"b","s":"C10","d":54.9,"v":28.2},
{"p":"C","h":"k","s":"C11","d":54.9,"v":28.2},{"p":"C","h":"k","s":"C11","d":55.7,"v":32.9},{"p":"C","h":"k","s":"C11","d":56.6,"v":39.8},{"p":"C","h":"k","s":"C11","d":57.2,"v":35.2},{"p":"C","h":"k","s":"C11","d":58.1,"v":32.9},{"p":"C","h":"k","s":"C11","d":58.9,"v":31.7},{"p":"C","h":"k","s":"C11","d":59.8,"v":34},{"p":"C","h":"k","s":"C11","d":60.9,"v":31.7},{"p":"C","h":"k","s":"C11","d":61.4,"v":22.5},
{"p":"C","h":"b","s":"C12","d":61.4,"v":19.6},{"p":"C","h":"b","s":"C12","d":62.4,"v":16.7},{"p":"C","h":"b","s":"C12","d":63.0,"v":13.2},{"p":"C","h":"b","s":"C12","d":63.6,"v":6.8},{"p":"C","h":"b","s":"C12","d":64.1,"v":12},{"p":"C","h":"b","s":"C12","d":64.9,"v":6.3},
{"p":"C","h":"k","s":"C13","d":65.0,"v":6.3},{"p":"C","h":"k","s":"C13","d":65.4,"v":14.4},{"p":"C","h":"k","s":"C13","d":66.2,"v":5.7},{"p":"C","h":"k","s":"C13","d":67.1,"v":9.7},{"p":"C","h":"k","s":"C13","d":67.7,"v":15.5},{"p":"C","h":"k","s":"C13","d":68.3,"v":7.4},{"p":"C","h":"k","s":"C13","d":68.8,"v":18.9},{"p":"C","h":"k","s":"C13","d":69.2,"v":36.3},{"p":"C","h":"k","s":"C13","d":69.6,"v":27},{"p":"C","h":"k","s":"C13","d":70.3,"v":16.7},{"p":"C","h":"k","s":"C13","d":70.9,"v":21.3},{"p":"C","h":"k","s":"C13","d":71.4,"v":25.9},
{"p":"C","h":"b","s":"C14","d":71.4,"v":25.9},{"p":"C","h":"b","s":"C14","d":72.0,"v":16.7},{"p":"C","h":"b","s":"C14","d":72.8,"v":6.3},{"p":"C","h":"b","s":"C14","d":73.5,"v":5.1},{"p":"C","h":"b","s":"C14","d":74.1,"v":14.4},{"p":"C","h":"b","s":"C14","d":74.7,"v":23},{"p":"C","h":"b","s":"C14","d":75.6,"v":2.8},{"p":"C","h":"b","s":"C14","d":76.2,"v":3.9},
{"p":"C","h":"k","s":"C15","d":76.2,"v":3.9},{"p":"C","h":"k","s":"C15","d":77.3,"v":10.9},{"p":"C","h":"k","s":"C15","d":78.6,"v":8.6},{"p":"C","h":"k","s":"C15","d":79.4,"v":5.1},{"p":"C","h":"k","s":"C15","d":80.1,"v":3.4},
{"p":"C","h":"b","s":"C16","d":80.1,"v":3.4},{"p":"C","h":"b","s":"C16","d":81.6,"v":5.1},{"p":"C","h":"b","s":"C16","d":83.0,"v":2.8},{"p":"C","h":"b","s":"C16","d":84.1,"v":8.6},{"p":"C","h":"b","s":"C16","d":85.2,"v":7.4},{"p":"C","h":"b","s":"C16","d":86.0,"v":10.9},{"p":"C","h":"b","s":"C16","d":86.7,"v":15.5},{"p":"C","h":"b","s":"C16","d":87.3,"v":23.6},
{"p":"C","h":"k","s":"C17","d":87.5,"v":8.1},{"p":"C","h":"k","s":"C17","d":88.4,"v":6.3},{"p":"C","h":"k","s":"C17","d":89.9,"v":3.9},{"p":"C","h":"k","s":"C17","d":90.7,"v":23.6},{"p":"C","h":"k","s":"C17","d":91.3,"v":6.3},{"p":"C","h":"k","s":"C17","d":91.8,"v":16.7},{"p":"C","h":"k","s":"C17","d":92.3,"v":6.3},{"p":"C","h":"k","s":"C17","d":93.1,"v":22.5},{"p":"C","h":"k","s":"C17","d":93.6,"v":17.8},
{"p":"C","h":"b","s":"C18","d":93.6,"v":17.8},{"p":"C","h":"b","s":"C18","d":94.2,"v":9.7},{"p":"C","h":"b","s":"C18","d":95.0,"v":7.4},{"p":"C","h":"b","s":"C18","d":95.7,"v":9.7},{"p":"C","h":"b","s":"C18","d":96.9,"v":5.1},{"p":"C","h":"b","s":"C18","d":98.2,"v":8.6},{"p":"C","h":"b","s":"C18","d":98.8,"v":13.2},{"p":"C","h":"b","s":"C18","d":99.3,"v":16.7},{"p":"C","h":"b","s":"C18","d":99.7,"v":7.4},
{"p":"C","h":"k","s":"C19","d":99.8,"v":6.8},{"p":"C","h":"k","s":"C19","d":101.0,"v":15.5},{"p":"C","h":"k","s":"C19","d":102.1,"v":9.7},{"p":"C","h":"k","s":"C19","d":103.3,"v":6.3},{"p":"C","h":"k","s":"C19","d":104.0,"v":14.4},{"p":"C","h":"k","s":"C19","d":104.4,"v":22.5},
{"p":"C","h":"b","s":"C20","d":104.5,"v":27.1},{"p":"C","h":"b","s":"C20","d":105.5,"v":15.5},{"p":"C","h":"b","s":"C20","d":106.3,"v":9.7},{"p":"C","h":"b","s":"C20","d":107.0,"v":17.8},{"p":"C","h":"b","s":"C20","d":107.8,"v":12},{"p":"C","h":"b","s":"C20","d":108.5,"v":16.7},{"p":"C","h":"b","s":"C20","d":109.3,"v":13.2},{"p":"C","h":"b","s":"C20","d":110,"v":14.4}
]
},
"spacing": 112,
"bounds": "flush",
"hconcat": [
{
 "width": 288, "height": 859,
 "title": {"text": "A", "anchor": "start", "frame": "group", "dx": -80, "fontSize": 34, "fontWeight": "bold", "offset": -2},
 "data": {"name": "ms"},
 "transform": [{"filter": "datum.p === 'A'"}],
 "layer": [
  {"transform": [{"filter": "datum.h === 'k'"}], "mark": {"type": "line", "clip": true, "stroke": "#000000", "strokeWidth": 1, "strokeJoin": "round"},
   "encoding": {
    "x": {"field": "v", "type": "quantitative", "scale": {"domain": [0, 100], "nice": false}, "axis": {"orient": "top", "values": [0,5,10,15,20,25,30,35,40,45,50,55,60,65,70,75,80,85,90,95,100], "labelExpr": "datum.value % 50 === 0 ? datum.label : ''", "tickSize": {"condition": {"test": "datum.value % 25 === 0", "value": -14}, "value": -9}, "title": ["Magnetic susceptibility", "(10⁻⁶ SI)"], "titleLineHeight": 50, "labelPadding": 20, "titlePadding": 1}},
    "y": {"field": "d", "type": "quantitative", "scale": {"domain": [0, 110], "reverse": true, "nice": false, "zero": false}, "axis": {"orient": "left", "values": [0,5,10,15,20,25,30,35,40,45,50,55,60,65,70,75,80,85,90,95,100,105,110], "labelExpr": "datum.value % 20 === 0 ? datum.label : ''", "tickSize": {"condition": {"test": "datum.value % 20 === 0", "value": -15}, "value": -9}, "title": "Depth (mbsf)", "labelPadding": 21, "titlePadding": 10}},
    "detail": {"field": "s", "type": "nominal"},
    "order": {"field": "d", "type": "quantitative"}
   }},
  {"transform": [{"filter": "datum.h === 'b'"}], "mark": {"type": "line", "clip": true, "stroke": "#5b5fa8", "strokeWidth": 1.7, "strokeJoin": "round"},
   "encoding": {
    "x": {"field": "v", "type": "quantitative", "scale": {"domain": [0, 100], "nice": false}, "axis": null},
    "y": {"field": "d", "type": "quantitative", "scale": {"domain": [0, 110], "reverse": true, "nice": false, "zero": false}, "axis": null},
    "detail": {"field": "s", "type": "nominal"},
    "order": {"field": "d", "type": "quantitative"}
   }},
  {"transform": [{"filter": "datum.h === 'g'"}], "mark": {"type": "line", "clip": true, "stroke": "#00a94f", "strokeWidth": 4, "strokeJoin": "round"},
   "encoding": {
    "x": {"field": "v", "type": "quantitative", "scale": {"domain": [0, 100], "nice": false}, "axis": null},
    "y": {"field": "d", "type": "quantitative", "scale": {"domain": [0, 110], "reverse": true, "nice": false, "zero": false}, "axis": null},
    "detail": {"field": "s", "type": "nominal"},
    "order": {"field": "d", "type": "quantitative"}
   }},
  {"transform": [{"filter": "false"}], "mark": {"type": "line"},
   "encoding": {
    "x": {"field": "v", "type": "quantitative", "scale": {"domain": [0, 100], "nice": false}, "axis": {"orient": "bottom", "values": [0,5,10,15,20,25,30,35,40,45,50,55,60,65,70,75,80,85,90,95,100], "labels": false, "tickSize": {"condition": {"test": "datum.value % 25 === 0", "value": -14}, "value": -9}, "title": null}},
    "y": {"field": "d", "type": "quantitative", "scale": {"domain": [0, 110], "reverse": true, "nice": false, "zero": false}, "axis": {"orient": "right", "values": [0,5,10,15,20,25,30,35,40,45,50,55,60,65,70,75,80,85,90,95,100,105,110], "labels": false, "tickSize": {"condition": {"test": "datum.value % 20 === 0", "value": -15}, "value": -9}, "title": null}}
   }}
 ],
 "resolve": {"axis": {"x": "independent", "y": "independent"}}
},
{
 "width": 288, "height": 859,
 "title": {"text": "B", "anchor": "start", "frame": "group", "dx": -79, "fontSize": 34, "fontWeight": "bold", "offset": -2},
 "data": {"name": "ms"},
 "transform": [{"filter": "datum.p === 'B'"}],
 "layer": [
  {"transform": [{"filter": "datum.h === 'k'"}], "mark": {"type": "line", "clip": true, "stroke": "#000000", "strokeWidth": 1, "strokeJoin": "round"},
   "encoding": {
    "x": {"field": "v", "type": "quantitative", "scale": {"domain": [0, 100], "nice": false}, "axis": {"orient": "top", "values": [0,5,10,15,20,25,30,35,40,45,50,55,60,65,70,75,80,85,90,95,100], "labelExpr": "datum.value % 50 === 0 ? datum.label : ''", "tickSize": {"condition": {"test": "datum.value % 25 === 0", "value": -14}, "value": -9}, "title": ["Magnetic susceptibility", "(10⁻⁶ SI)"], "titleLineHeight": 50, "labelPadding": 20, "titlePadding": 1}},
    "y": {"field": "d", "type": "quantitative", "scale": {"domain": [0, 110], "reverse": true, "nice": false, "zero": false}, "axis": {"orient": "left", "values": [0,5,10,15,20,25,30,35,40,45,50,55,60,65,70,75,80,85,90,95,100,105,110], "labelExpr": "datum.value % 20 === 0 ? datum.label : ''", "tickSize": {"condition": {"test": "datum.value % 20 === 0", "value": -15}, "value": -9}, "title": "Depth (mcd)", "labelPadding": 21, "titlePadding": 10}},
    "detail": {"field": "s", "type": "nominal"},
    "order": {"field": "d", "type": "quantitative"}
   }},
  {"transform": [{"filter": "datum.h === 'b'"}], "mark": {"type": "line", "clip": true, "stroke": "#5b5fa8", "strokeWidth": 1.7, "strokeJoin": "round"},
   "encoding": {
    "x": {"field": "v", "type": "quantitative", "scale": {"domain": [0, 100], "nice": false}, "axis": null},
    "y": {"field": "d", "type": "quantitative", "scale": {"domain": [0, 110], "reverse": true, "nice": false, "zero": false}, "axis": null},
    "detail": {"field": "s", "type": "nominal"},
    "order": {"field": "d", "type": "quantitative"}
   }},
  {"transform": [{"filter": "datum.h === 'g'"}], "mark": {"type": "line", "clip": true, "stroke": "#00a94f", "strokeWidth": 4, "strokeJoin": "round"},
   "encoding": {
    "x": {"field": "v", "type": "quantitative", "scale": {"domain": [0, 100], "nice": false}, "axis": null},
    "y": {"field": "d", "type": "quantitative", "scale": {"domain": [0, 110], "reverse": true, "nice": false, "zero": false}, "axis": null},
    "detail": {"field": "s", "type": "nominal"},
    "order": {"field": "d", "type": "quantitative"}
   }},
  {"transform": [{"filter": "false"}], "mark": {"type": "line"},
   "encoding": {
    "x": {"field": "v", "type": "quantitative", "scale": {"domain": [0, 100], "nice": false}, "axis": {"orient": "bottom", "values": [0,5,10,15,20,25,30,35,40,45,50,55,60,65,70,75,80,85,90,95,100], "labels": false, "tickSize": {"condition": {"test": "datum.value % 25 === 0", "value": -14}, "value": -9}, "title": null}},
    "y": {"field": "d", "type": "quantitative", "scale": {"domain": [0, 110], "reverse": true, "nice": false, "zero": false}, "axis": {"orient": "right", "values": [0,5,10,15,20,25,30,35,40,45,50,55,60,65,70,75,80,85,90,95,100,105,110], "labels": false, "tickSize": {"condition": {"test": "datum.value % 20 === 0", "value": -15}, "value": -9}, "title": null}}
   }}
 ],
 "resolve": {"axis": {"x": "independent", "y": "independent"}}
},
{
 "width": 288, "height": 859,
 "title": {"text": "C", "anchor": "start", "frame": "group", "dx": -77, "fontSize": 34, "fontWeight": "bold", "offset": -2},
 "data": {"name": "ms"},
 "transform": [{"filter": "datum.p === 'C'"}],
 "layer": [
  {"transform": [{"filter": "datum.h === 'k'"}], "mark": {"type": "line", "clip": true, "stroke": "#000000", "strokeWidth": 1, "strokeJoin": "round"},
   "encoding": {
    "x": {"field": "v", "type": "quantitative", "scale": {"domain": [0, 100], "nice": false}, "axis": {"orient": "top", "values": [0,5,10,15,20,25,30,35,40,45,50,55,60,65,70,75,80,85,90,95,100], "labelExpr": "datum.value % 50 === 0 ? datum.label : ''", "tickSize": {"condition": {"test": "datum.value % 25 === 0", "value": -14}, "value": -9}, "title": ["Magnetic susceptibility", "(10⁻⁶ SI)"], "titleLineHeight": 50, "labelPadding": 20, "titlePadding": 1}},
    "y": {"field": "d", "type": "quantitative", "scale": {"domain": [0, 110], "reverse": true, "nice": false, "zero": false}, "axis": {"orient": "left", "values": [0,5,10,15,20,25,30,35,40,45,50,55,60,65,70,75,80,85,90,95,100,105,110], "labelExpr": "datum.value % 20 === 0 ? datum.label : ''", "tickSize": {"condition": {"test": "datum.value % 20 === 0", "value": -15}, "value": -9}, "title": "Depth (mcd)", "labelPadding": 21, "titlePadding": 10}},
    "detail": {"field": "s", "type": "nominal"},
    "order": {"field": "d", "type": "quantitative"}
   }},
  {"transform": [{"filter": "datum.h === 'b'"}], "mark": {"type": "line", "clip": true, "stroke": "#5b5fa8", "strokeWidth": 1.7, "strokeJoin": "round"},
   "encoding": {
    "x": {"field": "v", "type": "quantitative", "scale": {"domain": [0, 100], "nice": false}, "axis": null},
    "y": {"field": "d", "type": "quantitative", "scale": {"domain": [0, 110], "reverse": true, "nice": false, "zero": false}, "axis": null},
    "detail": {"field": "s", "type": "nominal"},
    "order": {"field": "d", "type": "quantitative"}
   }},
  {"transform": [{"filter": "false"}], "mark": {"type": "line"},
   "encoding": {
    "x": {"field": "v", "type": "quantitative", "scale": {"domain": [0, 100], "nice": false}, "axis": {"orient": "bottom", "values": [0,5,10,15,20,25,30,35,40,45,50,55,60,65,70,75,80,85,90,95,100], "labels": false, "tickSize": {"condition": {"test": "datum.value % 25 === 0", "value": -14}, "value": -9}, "title": null}},
    "y": {"field": "d", "type": "quantitative", "scale": {"domain": [0, 110], "reverse": true, "nice": false, "zero": false}, "axis": {"orient": "right", "values": [0,5,10,15,20,25,30,35,40,45,50,55,60,65,70,75,80,85,90,95,100,105,110], "labels": false, "tickSize": {"condition": {"test": "datum.value % 20 === 0", "value": -15}, "value": -9}, "title": null}}
   }}
 ],
 "resolve": {"axis": {"x": "independent", "y": "independent"}}
}
]
}
